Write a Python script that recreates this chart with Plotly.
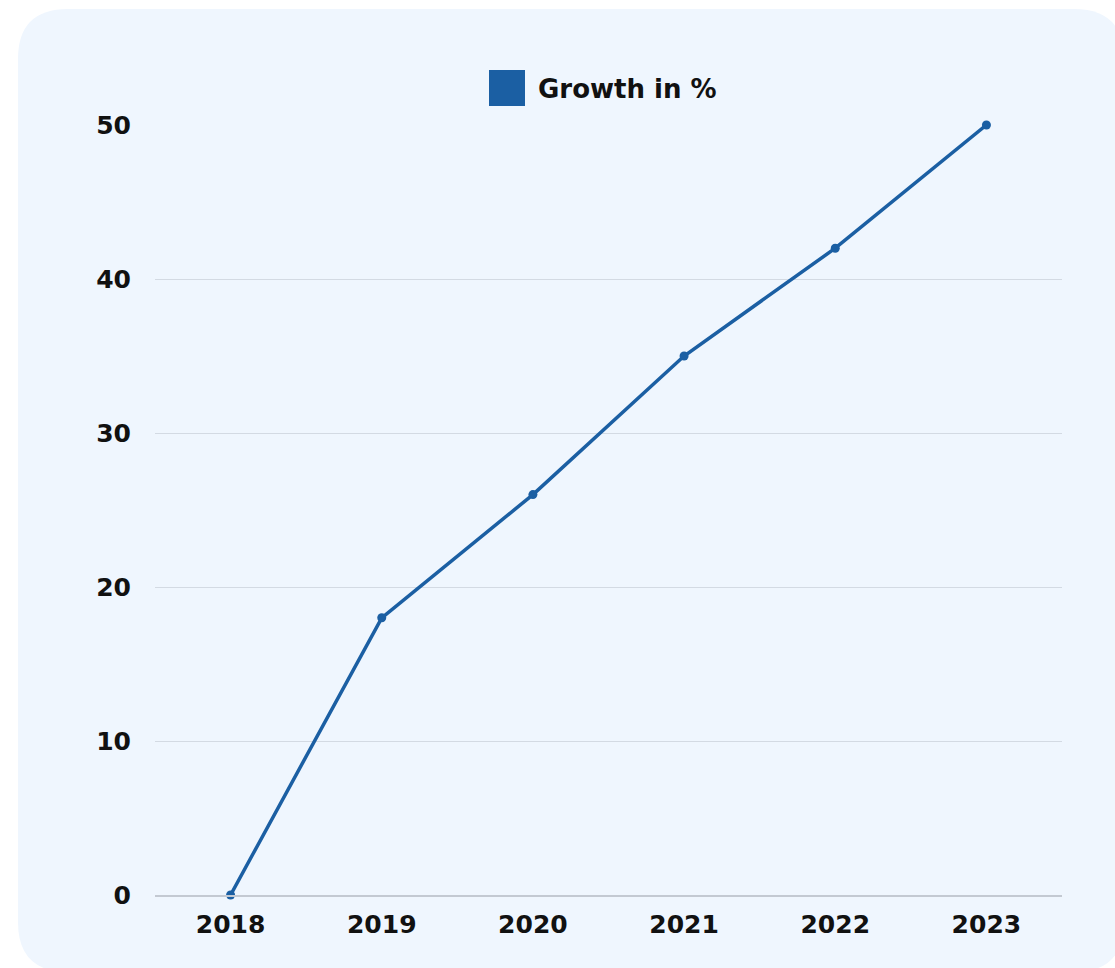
import plotly.graph_objects as go

years = ["2018", "2019", "2020", "2021", "2022", "2023"]
growth = [0, 18, 26, 35, 42, 50]
series_name = "Growth in %"
y_ticks = [0, 10, 20, 30, 40, 50]

W, H = 1115, 968
L, R, T, B = 155, 53, 125, 73
pw, ph = W - L - R, H - T - B

def fx(px):
    return (px - L) / pw

def fy(py):
    return (H - B - py) / ph

line_color = "#1B5FA3"
panel_color = "#EFF6FE"
font_family = "'DejaVu Sans', sans-serif"

fig = go.Figure()
fig.add_trace(go.Scatter(
    x=years, y=growth, mode="lines+markers", name=series_name,
    line=dict(color=line_color, width=3.5),
    marker=dict(color=line_color, size=9),
    cliponaxis=False, showlegend=False,
))

# rounded panel
x0, y0, x1, y1, r = 18, 9, 1124, 972, 50
path = (
    f"M {fx(x0 + r)} {fy(y0)} L {fx(x1 - r)} {fy(y0)} "
    f"Q {fx(x1)} {fy(y0)} {fx(x1)} {fy(y0 + r)} "
    f"L {fx(x1)} {fy(y1 - r)} Q {fx(x1)} {fy(y1)} {fx(x1 - r)} {fy(y1)} "
    f"L {fx(x0 + r)} {fy(y1)} Q {fx(x0)} {fy(y1)} {fx(x0)} {fy(y1 - r)} "
    f"L {fx(x0)} {fy(y0 + r)} Q {fx(x0)} {fy(y0)} {fx(x0 + r)} {fy(y0)} Z"
)
shapes = [dict(type="path", xref="paper", yref="paper", path=path,
               fillcolor=panel_color, line=dict(width=0), layer="below")]
# legend swatch
shapes.append(dict(type="rect", xref="paper", yref="paper",
                   x0=fx(489), x1=fx(525), y0=fy(106), y1=fy(70),
                   fillcolor=line_color, line=dict(width=0)))

fig.update_layout(
    width=W, height=H,
    margin=dict(l=L, r=R, t=T, b=B),
    paper_bgcolor="white", plot_bgcolor=panel_color,
    shapes=shapes,
    annotations=[dict(text=f"<b>{series_name}</b>", xref="paper", yref="paper",
                      x=fx(536), y=fy(89), xanchor="left", yanchor="middle",
                      showarrow=False, font=dict(family=font_family, size=26, color="#111111"))],
    font=dict(family=font_family, color="#111111"),
    xaxis=dict(type="category", range=[-0.5, 5.5], showgrid=False, showline=True,
               linecolor="#C3C9D2", linewidth=1.5,
               tickfont=dict(size=25, weight=700), ticks="", ticklabelstandoff=6,
               zeroline=False),
    yaxis=dict(range=[0, 50], tickvals=y_ticks, gridcolor="#D3DAE3", gridwidth=1.2,
               tickfont=dict(size=25, weight=700), zeroline=False, showline=False,
               ticklabelstandoff=23),
    showlegend=False,
)

fig.write_html("out.html")
